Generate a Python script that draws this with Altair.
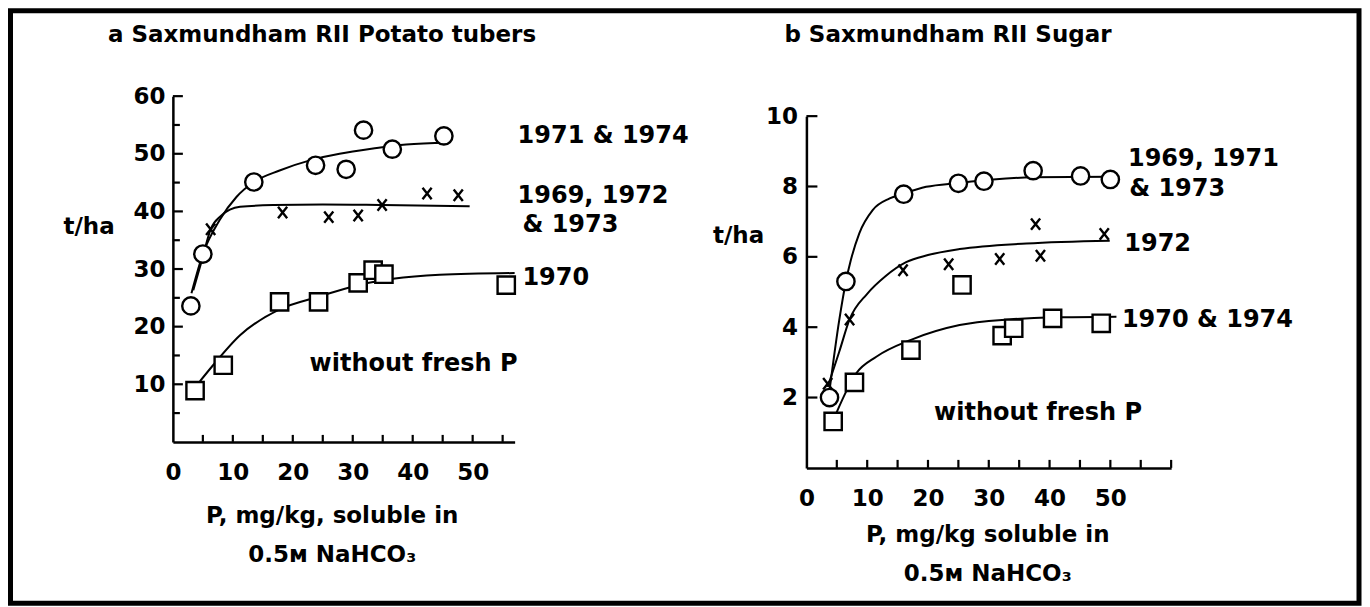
import altair as alt
import pandas as pd

FONT = "DejaVu Sans"
FS = 23
FS_NOTE = 24

# ---------------- Panel a: Saxmundham RII Potato tubers ----------------
a_circle_x = [3.0, 5.0, 13.5, 23.8, 28.9, 31.8, 36.6, 45.2]
a_circle_y = [23.6, 32.6, 45.1, 48.0, 47.3, 54.1, 50.8, 53.1]
a_cross_x = [6.3, 18.3, 26.0, 30.9, 34.9, 42.4, 47.6]
a_cross_y = [36.9, 39.8, 39.0, 39.3, 41.1, 43.1, 42.8]
a_square_x = [3.7, 8.4, 17.8, 24.3, 30.9, 33.4, 35.2, 55.6]
a_square_y = [8.9, 13.3, 24.3, 24.3, 27.6, 29.8, 29.1, 27.2]

a_fit_circle_x = [3.1, 5.0, 7.8, 10.6, 13.5, 17.8, 23.0, 27.8, 33.4, 38.9, 45.9]
a_fit_circle_y = [25.8, 32.6, 38.5, 42.5, 45.1, 47.1, 48.9, 50.0, 50.9, 51.6, 51.9]
a_fit_cross_x = [3.4, 4.8, 6.3, 8.0, 11.2, 16.7, 25.0, 35.0, 49.5]
a_fit_cross_y = [26.3, 31.4, 36.9, 39.2, 40.8, 41.1, 41.2, 41.1, 40.9]
a_fit_square_x = [4.5, 6.7, 11.2, 17.8, 24.3, 30.9, 36.7, 44.5, 57.0]
a_fit_square_y = [10.5, 13.3, 18.5, 23.0, 25.2, 27.2, 28.3, 29.0, 29.3]

a_x_labels = [0, 10, 20, 30, 40, 50]
a_x_ticks = [5, 10, 15, 20, 25, 30, 35, 40, 45, 50, 55]
a_y_labels = [10, 20, 30, 40, 50, 60]
a_y_ticks_major = [10, 20, 30, 40, 50, 60]
a_y_ticks_minor = [5, 15, 25, 35, 45, 55]

a_notes_text = ["1971 & 1974", "1969, 1972", "& 1973", "1970", "without fresh P"]
a_notes_x = [57.5, 57.5, 58.3, 58.3, 22.8]
a_notes_y = [51.9, 41.4, 36.4, 27.2, 12.3]

# ---------------- Panel b: Saxmundham RII Sugar ----------------
b_circle_x = [3.8, 6.5, 16.0, 25.0, 29.2, 37.3, 45.1, 50.0]
b_circle_y = [2.0, 5.3, 7.78, 8.09, 8.15, 8.45, 8.3, 8.2]
b_cross_x = [3.5, 7.1, 15.9, 23.4, 31.8, 37.7, 38.5, 49.0]
b_cross_y = [2.39, 4.22, 5.62, 5.79, 5.94, 6.93, 6.03, 6.65]
b_square_x = [4.4, 7.9, 17.2, 25.6, 32.2, 34.1, 40.5, 48.5]
b_square_y = [1.32, 2.43, 3.35, 5.2, 3.76, 3.97, 4.25, 4.11]

b_fit_circle_x = [3.8, 5.4, 6.5, 7.3, 8.7, 10.9, 13.7, 16.0, 19.7, 25.0, 30.7, 37.3, 49.9]
b_fit_circle_y = [2.2, 4.2, 5.3, 5.9, 6.67, 7.33, 7.66, 7.8, 7.99, 8.1, 8.2, 8.26, 8.28]
b_fit_cross_x = [3.5, 5.4, 7.1, 10.0, 13.0, 16.4, 20.0, 25.2, 36.2, 49.9]
b_fit_cross_y = [2.3, 3.3, 4.22, 4.95, 5.45, 5.85, 6.05, 6.22, 6.38, 6.46]
b_fit_square_x = [4.9, 8.2, 11.5, 17.2, 25.2, 33.4, 40.6, 51.0]
b_fit_square_y = [1.55, 2.69, 3.16, 3.64, 4.06, 4.22, 4.28, 4.30]

b_x_labels = [0, 10, 20, 30, 40, 50]
b_x_ticks = [5, 10, 15, 20, 25, 30, 35, 40, 45, 50, 55, 60]
b_y_labels = [2, 4, 6, 8, 10]
b_y_ticks = [2, 4, 6, 8, 10]

b_notes_text = ["1969, 1971", "& 1973", "1972", "1970 & 1974", "without fresh P"]
b_notes_x = [52.9, 53.1, 52.3, 51.9, 21.0]
b_notes_y = [8.58, 7.72, 6.16, 4.0, 1.36]

CROSS = "M-0.8,-1L0.8,1M0.8,-1L-0.8,1"


def xy(xs, ys):
    return pd.DataFrame({"x": xs, "y": ys})


def axis_common(**kw):
    base = dict(
        ticks=False, tickSize=0, grid=False, domainColor="black", domainWidth=2.5,
        labelFont=FONT, labelFontSize=FS, labelFontWeight="bold", labelColor="black",
        labelOverlap=False, labelFlush=False, labelBound=False,
        titleFont=FONT, titleFontSize=FS, titleFontWeight="bold", titleColor="black",
        titleBaseline="alphabetic",
    )
    base.update(kw)
    return alt.Axis(**base)


def panel(W, H, xdom, ydom, yrange, xaxis, yaxis,
          circ, cros, sq, fits, ticks_x, ticks_y_list, tick_x_len, notes, title, title_pos, extra=None):
    xs = alt.Scale(domain=xdom, range=[0, W], nice=False, zero=False)
    ys = alt.Scale(domain=ydom, range=yrange, nice=False, zero=False)
    X = lambda: alt.X("x:Q", scale=xs, axis=xaxis)
    Y = lambda: alt.Y("y:Q", scale=ys, axis=yaxis)
    layers = []
    if extra is not None:
        layers.append(extra)
    ybase = yrange[0]
    # tick marks (inward)
    for vals, ln in ticks_y_list:
        layers.append(alt.Chart(pd.DataFrame({"y": vals})).mark_rule(color="black", strokeWidth=2.2)
                      .encode(y=Y(), x=alt.value(0), x2=alt.value(ln)))
    layers.append(alt.Chart(pd.DataFrame({"x": ticks_x})).mark_rule(color="black", strokeWidth=2.2)
                  .encode(x=X(), y=alt.value(ybase), y2=alt.value(ybase - tick_x_len)))
    # fitted curves
    for fx, fy in fits:
        layers.append(alt.Chart(xy(fx, fy)).mark_line(color="black", strokeWidth=2, interpolate="monotone")
                      .encode(x=X(), y=Y()))
    # points
    layers.append(alt.Chart(xy(*cros)).mark_point(shape=CROSS, size=130, filled=False, stroke="black",
                                                  strokeWidth=2.4, opacity=1).encode(x=X(), y=Y()))
    layers.append(alt.Chart(xy(*circ)).mark_point(shape="circle", size=300, filled=True, fill="white",
                                                  stroke="black", strokeWidth=2.4, opacity=1).encode(x=X(), y=Y()))
    layers.append(alt.Chart(xy(*sq)).mark_point(shape="square", size=300, filled=True, fill="white",
                                                stroke="black", strokeWidth=2.4, opacity=1).encode(x=X(), y=Y()))
    # annotations
    nt, nx, ny = notes
    layers.append(alt.Chart(pd.DataFrame({"x": nx, "y": ny, "t": nt}))
                  .mark_text(align="left", baseline="alphabetic", font=FONT, fontSize=FS_NOTE, fontWeight="bold", color="black")
                  .encode(x=X(), y=Y(), text="t:N"))
    # panel title
    layers.append(alt.Chart(pd.DataFrame({"t": [title]}))
                  .mark_text(align="left", baseline="alphabetic", font=FONT, fontSize=23, fontWeight="bold", color="black")
                  .encode(x=alt.value(title_pos[0]), y=alt.value(title_pos[1]), text="t:N"))
    return alt.layer(*layers).properties(width=W, height=H)


border = (alt.Chart(pd.DataFrame({"k": [0]}))
          .mark_rect(filled=False, stroke="black", strokeWidth=5)
          .encode(x=alt.value(-162.5), x2=alt.value(1187), y=alt.value(-85.5), y2=alt.value(507.5)))

ax_a_x = axis_common(values=a_x_labels, labelPadding=20,
                     title=["P, mg/kg, soluble in", "0.5ᴍ NaHCO₃"], titleX=159, titleY=81,
                     titleAlign="center", titleLineHeight=39)
ax_a_y = axis_common(values=a_y_labels, labelPadding=8, title="t/ha", titleAngle=0,
                     titleX=-110, titleY=137, titleAlign="left")

panel_a = panel(342, 346, [0, 57], [0, 60], [346, 0], ax_a_x, ax_a_y,
                (a_circle_x, a_circle_y), (a_cross_x, a_cross_y), (a_square_x, a_square_y),
                [(a_fit_circle_x, a_fit_circle_y), (a_fit_cross_x, a_fit_cross_y), (a_fit_square_x, a_fit_square_y)],
                a_x_ticks, [(a_y_ticks_major, 10), (a_y_ticks_minor, 7)], 7,
                (a_notes_text, a_notes_x, a_notes_y),
                "a Saxmundham RII Potato tubers", (-65, -54), extra=border)

ax_b_x = axis_common(values=b_x_labels, labelPadding=20,
                     title=["P, mg/kg soluble in", "0.5ᴍ NaHCO₃"], titleX=181, titleY=74,
                     titleAlign="center", titleLineHeight=39)
ax_b_y = axis_common(values=b_y_labels, labelPadding=9, title="t/ha", titleAngle=0,
                     titleX=-94, titleY=146, titleAlign="left")

panel_b = panel(365, 372, [0, 60], [0, 10], [372, 20], ax_b_x, ax_b_y,
                (b_circle_x, b_circle_y), (b_cross_x, b_cross_y), (b_square_x, b_square_y),
                [(b_fit_circle_x, b_fit_circle_y), (b_fit_cross_x, b_fit_cross_y), (b_fit_square_x, b_fit_square_y)],
                b_x_ticks, [(b_y_ticks, 11)], 8,
                (b_notes_text, b_notes_x, b_notes_y),
                "b Saxmundham RII Sugar", (-22, -54))

chart = (alt.hconcat(panel_a, panel_b, spacing=292, bounds="flush", padding=0)
         .configure(background="white")
         .configure_view(strokeWidth=0, stroke="transparent"))

chart.save("out.html", embed_options={"renderer": "svg", "actions": False})
